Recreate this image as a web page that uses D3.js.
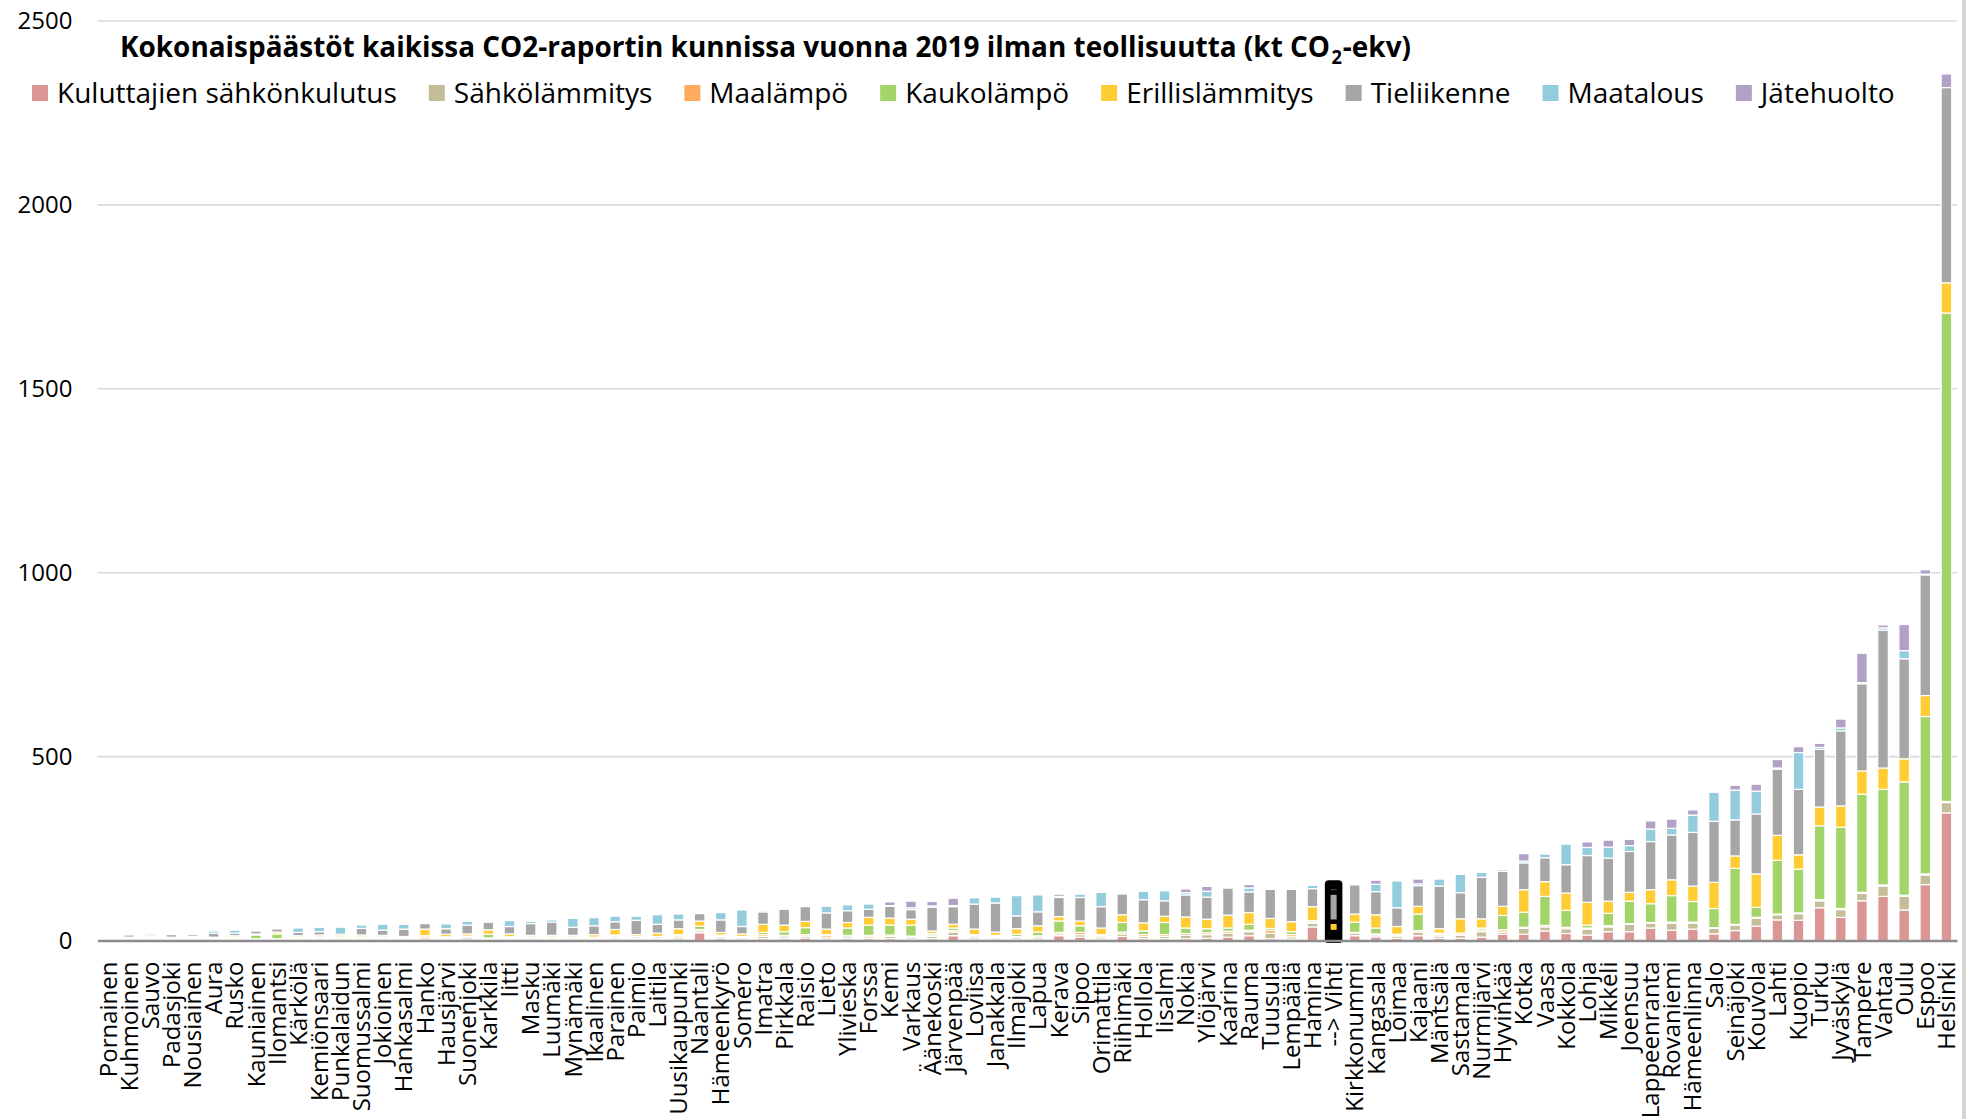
<!DOCTYPE html>
<html><head><meta charset="utf-8">
<script src="https://cdn.jsdelivr.net/npm/d3@7/dist/d3.min.js"></script>
<style>
body{margin:0;background:#fff}
svg{display:block}
text{font-family:"Open Sans",sans-serif;fill:#000}
</style>
</head><body>
<svg id="chart" width="1975" height="1119"></svg>
<script>
const municipalities = ["Pornainen","Kuhmoinen","Sauvo","Padasjoki","Nousiainen","Aura","Rusko","Kauniainen","Ilomantsi","Kärkölä",
"Kemiönsaari","Punkalaidun","Suomussalmi","Jokioinen","Hankasalmi","Hanko","Hausjärvi","Suonenjoki","Karkkila","Iitti",
"Masku","Luumäki","Mynämäki","Ikaalinen","Parainen","Paimio","Laitila","Uusikaupunki","Naantali","Hämeenkyrö",
"Somero","Imatra","Pirkkala","Raisio","Lieto","Ylivieska","Forssa","Kemi","Varkaus","Äänekoski",
"Järvenpää","Loviisa","Janakkala","Ilmajoki","Lapua","Kerava","Sipoo","Orimattila","Riihimäki","Hollola",
"Iisalmi","Nokia","Ylöjärvi","Kaarina","Rauma","Tuusula","Lempäälä","Hamina","--> Vihti","Kirkkonummi",
"Kangasala","Loimaa","Kajaani","Mäntsälä","Sastamala","Nurmijärvi","Hyvinkää","Kotka","Vaasa","Kokkola",
"Lohja","Mikkeli","Joensuu","Lappeenranta","Rovaniemi","Hämeenlinna","Salo","Seinäjoki","Kouvola","Lahti",
"Kuopio","Turku","Jyväskylä","Tampere","Vantaa","Oulu","Espoo","Helsinki"];

const seriesNames = ["Kuluttajien sähkönkulutus","Sähkölämmitys","Maalämpö","Kaukolämpö","Erillislämmitys","Tieliikenne","Maatalous","Jätehuolto"];
const seriesColors = ["#D99694","#C4BD97","#FFAA5C","#A3D46A","#FFCD33","#A6A6A6","#93CDDD","#B2A1C7"];

const kulutus = [1,2,3,2,3,2,3,2,2,3, 3,3,3,3,3,4,3,4,3,3, 3,3,3,3,4,3,3,4,21,5, 4,5,5,7,4,5,5,5,3,5,
 13,4,4,3,4,13,9,4,11,5, 5,5,6,9,13,5,4,37,8,13, 10,6,13,6,6,9,17,17,26,19, 15,24,24,34,28,31,18,27,39,56,
 55,89,63,108,120,83,152,347];
const sahkolammitys = [1,2,3,2,3,3,3,2,2,3, 4,4,4,4,3,5,4,5,3,4, 4,4,4,3,4,4,4,5,5,5, 4,6,5,5,5,5,5,6,5,6,
 10,5,4,5,5,5,7,5,7,6, 6,9,10,11,11,15,6,10,8,7, 5,6,10,6,8,15,6,16,11,13, 16,13,20,13,19,16,15,15,22,14,
 18,19,21,20,28,37,26,28];
const maalampo = [1,2,2,2,2,2,3,1,1,3, 3,3,3,3,2,4,3,3,1,3, 3,3,3,3,4,4,4,4,4,3, 3,5,4,4,5,4,4,4,4,4,
 4,4,3,3,4,4,6,4,5,5, 5,5,5,5,4,8,6,3,2,2, 3,2,4,4,4,5,6,3,4,4, 3,3,2,2,3,3,2,2,2,2,
 2,3,3,3,3,3,3,3];
const kaukolampo = [0,0,0,0,0,0,0,10,13,0, 0,0,0,0,0,0,0,0,10,0, 0,0,0,0,3,0,0,3,9,2, 0,6,10,19,2,20,28,27,30,4,
 7,3,3,6,10,31,18,3,26,10, 33,15,11,9,16,5,8,4,5,28, 16,3,45,4,2,5,39,41,79,46, 8,34,61,51,72,56,52,152,27,146,
 119,201,221,267,260,308,428,1328];
const erillislammitys = [1,3,3,3,3,2,4,3,5,4, 5,5,5,4,3,18,7,6,12,8, 4,4,4,7,15,5,9,16,14,7, 7,22,18,17,15,15,21,19,16,7,
 10,15,9,15,17,12,13,18,21,22, 17,30,26,35,32,27,27,38,28,22, 36,21,21,12,39,25,25,61,40,47, 62,33,24,38,43,42,71,34,91,68,
 39,51,58,63,58,63,57,82];
const tieliikenne = [2,6,4,7,5,11,7,8,9,9, 9,2,18,14,20,15,15,24,21,20, 32,36,22,24,21,39,24,24,20,34, 20,34,43,40,44,32,22,32,26,65,
 48,68,79,35,38,52,64,58,57,63, 42,60,60,74,56,79,88,49,80,79, 63,51,56,116,71,113,95,73,65,77, 127,117,111,131,122,146,166,98,163,180,
 178,157,204,237,375,272,328,531];
const maatalous = [0,0,4,0,0,6,8,1,1,12, 12,19,9,16,13,0,13,10,1,16, 6,6,24,22,15,11,26,16,0,20, 45,4,0,0,18,16,14,2,5,3,
 3,17,16,55,46,3,9,39,3,23, 27,6,16,2,11,2,2,9,14,0, 20,73,5,19,50,13,5,5,10,56, 22,30,16,34,18,47,79,81,62,3,
 100,5,8,3,6,22,2,0];
const jatehuolto = [0,0,0,0,0,0,0,0,0,0, 0,0,0,0,0,0,0,0,0,0, 0,0,0,0,0,0,0,0,0,0, 0,0,0,0,0,0,0,10,18,12,
 20,0,0,0,0,6,0,0,0,0, 0,10,13,0,9,0,0,0,8,0, 11,0,13,0,0,0,3,20,0,0, 15,19,17,22,25,14,0,13,19,23,
 16,11,24,80,8,71,12,37];

const yTicks = [0,500,1000,1500,2000,2500];
const highlighted = "--> Vihti";
const titleMain = "Kokonaispäästöt kaikissa CO2-raportin kunnissa vuonna 2019 ilman teollisuutta (kt CO";
const titleSub = "2";
const titleEnd = "-ekv)";

const seriesValues = [kulutus,sahkolammitys,maalampo,kaukolampo,erillislammitys,tieliikenne,maatalous,jatehuolto];
const rows = municipalities.map((m,i)=>{
  const r = {name:m};
  seriesNames.forEach((s,k)=>{ r[s] = seriesValues[k][i]; });
  return r;
});

(function(){
const svg = d3.select("#chart");
const W = 1975, H = 1119;
const pLeft = 97.4, pRight = 1957, pTop = 21, pBottom = 940.5;

const x = d3.scaleBand().domain(municipalities).range([pLeft,pRight]).paddingInner(0.5).paddingOuter(0.25);
const y = d3.scaleLinear().domain([0,2500]).range([pBottom,pTop]);
const color = d3.scaleOrdinal().domain(seriesNames).range(seriesColors);

// right edge frame shadow
svg.append("rect").attr("x",1962).attr("y",0).attr("width",4).attr("height",H).attr("fill","#d4d4d4");

// gridlines
svg.append("g").selectAll("line").data(yTicks.filter(t=>t>0)).join("line")
  .attr("x1",pLeft).attr("x2",pRight)
  .attr("y1",d=>y(d)).attr("y2",d=>y(d))
  .attr("stroke","#d9d9d9").attr("stroke-width",1.6);

// y axis labels
const yAxis = svg.append("g").attr("transform",`translate(${pLeft},0)`)
  .call(d3.axisLeft(y).tickValues(yTicks).tickSize(0).tickPadding(25).tickFormat(d3.format("d")));
yAxis.select(".domain").remove();
yAxis.selectAll("text").style("font-size","24px").style("font-family","'Open Sans',sans-serif").attr("fill","#000");

// stacked bars
const stacked = d3.stack().keys(seriesNames)(rows);

// highlight box behind Vihti
const hRow = rows[municipalities.indexOf(highlighted)];
const hTotal = d3.sum(seriesNames, s=>hRow[s]);
svg.append("rect")
  .attr("x",x(highlighted)-3.5).attr("width",x.bandwidth()+7)
  .attr("y",y(hTotal)-4).attr("height",y(0)-y(hTotal)+6.5)
  .attr("rx",4).attr("fill","#000");

const layers = svg.append("g").selectAll("g").data(stacked).join("g")
  .attr("fill",d=>color(d.key));
layers.selectAll("rect").data(d=>d.filter(p=>p[1]-p[0]>0)).join("rect")
  .attr("x",d=>x(d.data.name))
  .attr("width",x.bandwidth())
  .attr("y",d=>y(d[1]))
  .attr("height",d=>y(d[0])-y(d[1]))
  .attr("stroke",d=>d.data.name===highlighted?"#000":"#fff")
  .attr("stroke-width",d=>d.data.name===highlighted?4.5:1.2);

// x axis
const xAxis = svg.append("g").attr("transform",`translate(0,${pBottom})`)
  .call(d3.axisBottom(x).tickSize(0).tickSizeOuter(0));
xAxis.select(".domain").attr("stroke","#8c8c8c").attr("stroke-width",2.5);
xAxis.selectAll("text")
  .attr("transform","rotate(-90)")
  .attr("text-anchor","end")
  .attr("x",-21).attr("y",0).attr("dy","0.36em")
  .style("font-size","24px").style("font-family","'Open Sans',sans-serif").attr("fill","#000");

// title: three separate text pieces, condensed horizontally to the reference width
const tg = svg.append("g");
const t1 = tg.append("text").attr("x",0).attr("y",0).attr("font-weight","bold").style("font-size","29px").text(titleMain);
const w1 = t1.node().getComputedTextLength();
const t2 = tg.append("text").attr("x",w1+1).attr("y",7).attr("font-weight","bold").style("font-size","19px").text(titleSub);
const w2 = t2.node().getComputedTextLength();
const t3 = tg.append("text").attr("x",w1+w2+2).attr("y",0).attr("font-weight","bold").style("font-size","29px").text(titleEnd);
const w3 = t3.node().getComputedTextLength();
const sx = 1291/(w1+w2+w3+2);
tg.attr("transform",`translate(120,57) scale(${sx},1)`);

// legend
const legend = svg.append("g").attr("transform","translate(32,93)");
let lx = 0;
seriesNames.forEach((s,k)=>{
  const g = legend.append("g").attr("transform",`translate(${lx},0)`);
  g.append("rect").attr("x",0).attr("y",-8).attr("width",16).attr("height",16).attr("fill",color(s));
  const t = g.append("text").attr("x",25).attr("y",0).attr("dy","0.36em").style("font-size","28px").text(s);
  const w = t.node().getComputedTextLength();
  lx += 25 + w + 32;
});
})();
</script>
</body></html>
